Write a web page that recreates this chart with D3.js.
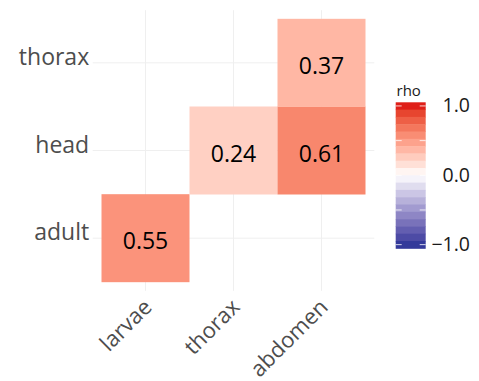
<!DOCTYPE html>
<html>
<head>
<meta charset="utf-8">
<script src="https://cdn.jsdelivr.net/npm/d3@7/dist/d3.min.js"></script>
<style>
  html, body { margin: 0; padding: 0; background: #fff; }
  svg { display: block; }
  text { font-family: "Open Sans", "Noto Sans", sans-serif; }
</style>
</head>
<body>
<svg id="chart" width="479" height="381"></svg>
<script>
// ---- data ----
const xCategories = ["larvae", "thorax", "abdomen"];
const yCategories = ["adult", "head", "thorax"];      // bottom to top
const cellX = ["larvae", "thorax", "abdomen", "abdomen"];
const cellY = ["adult", "head", "head", "thorax"];
const cellValues = [0.55, 0.24, 0.61, 0.37];
const legendTicks = [-1, -0.5, 0, 0.5, 1];
const legendLabels = [-1, 0, 1];
const legendTitle = "rho";

// ---- layout ----
const W = 479, H = 381;
const panel = { left: 92.7, right: 374.3, top: 10.2, bottom: 290.8 };
const svg = d3.select("#chart");

const x = d3.scalePoint().domain(xCategories).range([panel.left, panel.right]).padding(0.6);
const y = d3.scalePoint().domain(yCategories).range([panel.bottom, panel.top]).padding(0.6);
const step = x.step();

const lowCol = "#33399a", midCol = "#ffffff", highCol = "#df1f18";
const color = d3.scaleLinear().domain([-1, 0, 1]).range([lowCol, midCol, highCol]).interpolate(d3.interpolateLab);

// grid
const grid = svg.append("g");
grid.selectAll("line.v").data(xCategories).join("line")
  .attr("x1", d => x(d)).attr("x2", d => x(d))
  .attr("y1", panel.top).attr("y2", panel.bottom)
  .attr("stroke", "#efefef").attr("stroke-width", 1);
grid.selectAll("line.h").data(yCategories).join("line")
  .attr("y1", d => y(d)).attr("y2", d => y(d))
  .attr("x1", panel.left).attr("x2", panel.right)
  .attr("stroke", "#efefef").attr("stroke-width", 1);

// tiles
const cells = cellValues.map((v, i) => ({ x: cellX[i], y: cellY[i], v }));
svg.append("g").selectAll("rect").data(cells).join("rect")
  .attr("x", d => x(d.x) - step / 2)
  .attr("y", d => y(d.y) - step / 2)
  .attr("width", step).attr("height", step)
  .attr("fill", d => color(d.v));

svg.append("g").selectAll("text").data(cells).join("text")
  .attr("x", d => x(d.x))
  .attr("y", d => y(d.y) + 11)
  .attr("text-anchor", "middle")
  .attr("font-size", 23)
  .attr("fill", "#000")
  .text(d => d3.format(".2f")(d.v));

// y axis labels
svg.append("g").selectAll("text").data(yCategories).join("text")
  .attr("x", panel.left - 3.5)
  .attr("y", d => y(d) + 2)
  .attr("text-anchor", "end")
  .attr("font-size", 23)
  .attr("fill", "#4d4d4d")
  .text(d => d);

// x axis labels
svg.append("g").selectAll("text").data(xCategories).join("text")
  .attr("transform", d => `translate(${x(d) - 4},${panel.bottom + 6}) rotate(-45)`)
  .attr("text-anchor", "end")
  .attr("dy", "0.75em")
  .attr("font-size", 22)
  .attr("fill", "#4d4d4d")
  .text(d => d);

// legend
const bar = { x: 395.7, w: 30, top: 102.3, h: 146 };
const nbin = 20;
const binVals = d3.range(nbin).map(i => 1 - 2 * i / (nbin - 1));
const binH = bar.h / nbin;
const lg = svg.append("g");
lg.selectAll("rect").data(binVals).join("rect")
  .attr("x", bar.x).attr("width", bar.w)
  .attr("y", (d, i) => bar.top + i * binH)
  .attr("height", binH + 0.5)
  .attr("fill", d => color(d));
const ly = d3.scaleLinear().domain([1, -1])
  .range([bar.top + bar.h * 0.5 / nbin, bar.top + bar.h - bar.h * 0.5 / nbin]);
const tk = lg.append("g");
legendTicks.forEach(t => {
  tk.append("line").attr("x1", bar.x).attr("x2", bar.x + 6).attr("y1", ly(t)).attr("y2", ly(t))
    .attr("stroke", "#fff").attr("stroke-width", 1).attr("opacity", 0.8);
  tk.append("line").attr("x1", bar.x + bar.w - 6).attr("x2", bar.x + bar.w).attr("y1", ly(t)).attr("y2", ly(t))
    .attr("stroke", "#fff").attr("stroke-width", 1).attr("opacity", 0.8);
});
lg.selectAll("text.lab").data(legendLabels).join("text")
  .attr("class", "lab")
  .attr("x", 470)
  .attr("y", d => ly(d) + 6.5)
  .attr("text-anchor", "end")
  .attr("font-size", 19.5)
  .attr("fill", "#1a1a1a")
  .text(d => d3.format(".1f")(d).replace("-", "\u2212"));
lg.append("text")
  .attr("x", 396.5).attr("y", 95.5)
  .attr("font-size", 15)
  .attr("fill", "#1a1a1a")
  .text(legendTitle);
</script>
</body>
</html>
